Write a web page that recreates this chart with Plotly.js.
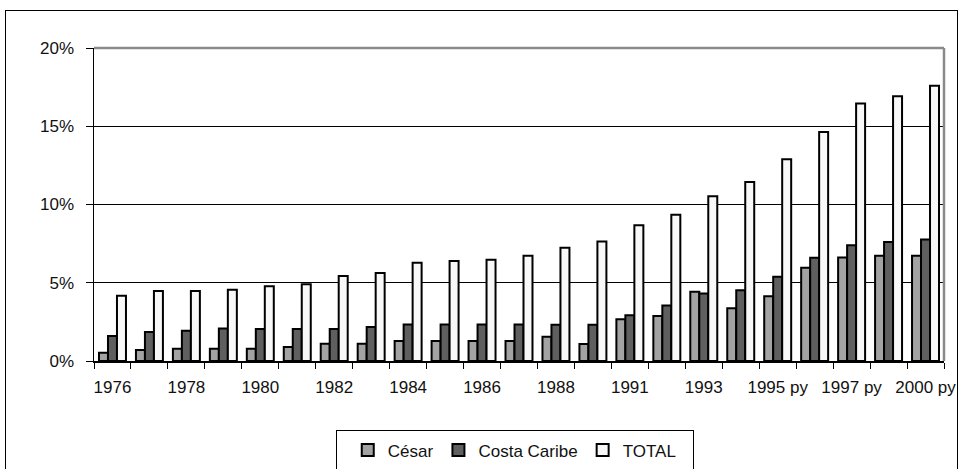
<!DOCTYPE html>
<html>
<head>
<meta charset="utf-8">
<script src="https://cdn.plot.ly/plotly-3.0.1.min.js"></script>
<style>
  html, body { margin: 0; padding: 0; background: #fff; overflow: hidden; }
  #wrap { position: relative; width: 963px; height: 469px; }
  #frame { position: absolute; left: 5px; top: 10px; width: 953px; height: 470px; border: 1px solid #000; box-sizing: border-box; pointer-events: none; z-index: 2; }
  #legbox { position: absolute; left: 336px; top: 430px; width: 358px; height: 50px; border: 1px solid #000; box-sizing: border-box; pointer-events: none; z-index: 2; }
  #chart { position: absolute; left: 0; top: 0; width: 963px; height: 469px; }
</style>
</head>
<body>
<div id="wrap">
  <div id="chart"></div>
  <div id="frame"></div>
  <div id="legbox"></div>
</div>
<script>
// Categories (years); only every other label is shown on the axis
const categories = ["1976","1977","1978","1979","1980","1981","1982","1983","1984","1985",
  "1986","1987","1988","1990","1991","1992","1993","1994","1995 py","1996 py",
  "1997 py","1998 py","2000 py"];
const tickLabels = ["1976","","1978","","1980","","1982","","1984","",
  "1986","","1988","","1991","","1993","","1995 py","",
  "1997 py","","2000 py"];

// Series values (percent)
const cesar = [0.53,0.70,0.79,0.79,0.79,0.89,1.11,1.11,1.28,1.28,
  1.28,1.28,1.55,1.09,2.66,2.88,4.43,3.37,4.13,5.96,
  6.62,6.73,6.73];
const costaCaribe = [1.60,1.85,1.94,2.07,2.04,2.04,2.04,2.17,2.34,2.34,
  2.34,2.34,2.32,2.32,2.92,3.54,4.32,4.52,5.39,6.60,
  7.39,7.60,7.77];
const total = [4.17,4.47,4.47,4.56,4.77,4.90,5.43,5.62,6.28,6.39,
  6.47,6.73,7.24,7.63,8.67,9.35,10.52,11.44,12.89,14.63,
  16.46,16.91,17.59];

const seriesNames = ["César","Costa Caribe","TOTAL"];
const seriesColors = ["#a3a3a3","#5f5f5f","#f8f8f8"];
const seriesValues = [cesar, costaCaribe, total];

const font = "Liberation Sans, Arial, sans-serif";

const traces = seriesValues.map((vals, i) => ({
  type: "bar",
  name: seriesNames[i],
  x: categories,
  y: vals,
  marker: { color: seriesColors[i], line: { color: "#000", width: 2 } },
  hoverinfo: "skip"
}));

const layout = {
  width: 963,
  height: 469,
  margin: { l: 94, r: 19, t: 48, b: 108, autoexpand: false },
  paper_bgcolor: "#fff",
  plot_bgcolor: "#fff",
  barmode: "group",
  bargap: 0.27,
  bargroupgap: 0,
  showlegend: true,
  font: { family: font, size: 17, color: "#111" },
  xaxis: {
    type: "category",
    tickmode: "array",
    tickvals: categories,
    ticktext: tickLabels,
    tickson: "boundaries",
    ticks: "outside",
    ticklen: 6,
    tickcolor: "#000",
    tickwidth: 1,
    ticklabelstandoff: 10,
    showline: true,
    linecolor: "#000",
    linewidth: 1.5,
    showgrid: false,
    tickangle: 0,
    automargin: false,
    tickfont: { family: font, size: 17, color: "#111" },
    fixedrange: true
  },
  yaxis: {
    range: [0, 20],
    tickmode: "array",
    tickvals: [0, 5, 10, 15, 20],
    ticktext: ["0%", "5%", "10%", "15%", "20%"],
    ticks: "outside",
    ticklen: 7,
    tickcolor: "#000",
    ticklabelstandoff: 8,
    showline: true,
    linecolor: "#000",
    linewidth: 1.5,
    showgrid: true,
    gridcolor: "#000",
    gridwidth: 1,
    zeroline: false,
    automargin: false,
    tickfont: { family: font, size: 17, color: "#111" },
    fixedrange: true
  },
  shapes: [
    { type: "line", xref: "paper", yref: "paper", x0: 0, x1: 1, y0: 1, y1: 1,
      line: { color: "#8a8a8a", width: 2.5 }, layer: "above" },
    { type: "line", xref: "paper", yref: "paper", x0: 1, x1: 1, y0: 0, y1: 1,
      line: { color: "#8a8a8a", width: 2.5 }, layer: "above" }
  ],
  legend: {
    orientation: "h",
    x: 0.495,
    xanchor: "center",
    y: -0.228,
    yanchor: "top",
    bgcolor: "rgba(0,0,0,0)",
    borderwidth: 0,
    font: { family: font, size: 17, color: "#111" },
    itemwidth: 30,
    traceorder: "normal"
  }
};

Plotly.newPlot("chart", traces, layout, { staticPlot: true, displayModeBar: false });
</script>
</body>
</html>
